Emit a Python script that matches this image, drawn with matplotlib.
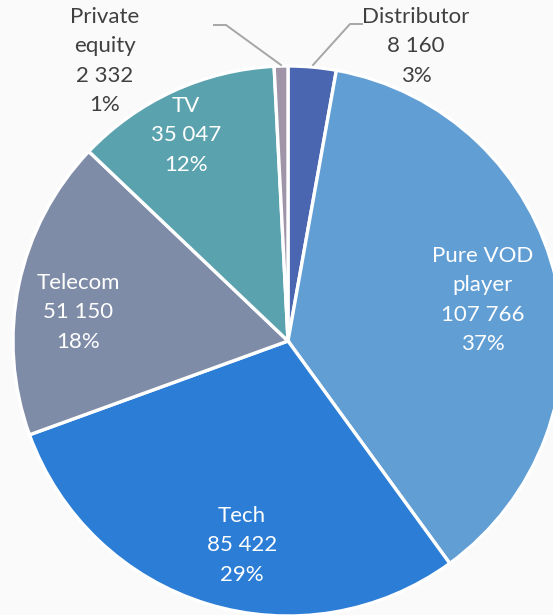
import matplotlib
matplotlib.use("Agg")
import matplotlib.pyplot as plt

categories = ["Distributor", "Pure VOD\nplayer", "Tech", "Telecom", "TV", "Private\nequity"]
values = [8160, 107766, 85422, 51150, 35047, 2332]
value_labels = ["8 160", "107 766", "85 422", "51 150", "35 047", "2 332"]
colors = ["#4a66b0", "#609ed4", "#2b7dd6", "#7f8ca7", "#5aa2ad", "#a095a8"]

W, H = 553, 615
fig = plt.figure(figsize=(W / 100, H / 100), dpi=100)
bg = "#fafafa"
fig.patch.set_facecolor(bg)
ax = fig.add_axes([0, 0, 1, 1])
ax.set_facecolor(bg)

cx, cy, r = 288, H - 341, 275
ax.pie(values, colors=colors, startangle=90, counterclock=False,
       center=(cx, cy), radius=r,
       wedgeprops=dict(edgecolor="white", linewidth=2.4), frame=True)
ax.set_xlim(0, W)
ax.set_ylim(0, H)
ax.set_aspect("equal")
ax.axis("off")

total = sum(values)
pcts = [f"{round(v / total * 100)}%" for v in values]

# label positions (pixel coords from top-left): center x, top line y
label_pos = [(416, 17), (483, 256), (242, 516), (78, 283), (186, 106), (105, 17)]
label_col = ["#404040", "white", "white", "white", "white", "#404040"]
font = ["Lato", "DejaVu Sans"]
for cat, vl, p, (x, y), c in zip(categories, value_labels, pcts, label_pos, label_col):
    lines = cat.split("\n") + [vl, p]
    for i, ln in enumerate(lines):
        ax.text(x, H - (y + i * 29.3), ln, ha="center", va="center",
                fontsize=16, color=c, family=font)

# leader lines
lc = "#a6a6a6"
ax.plot([313, 350, 362], [H - 65, H - 24, H - 24], color=lc, lw=1.4)
ax.plot([281, 226, 214], [H - 65, H - 25, H - 25], color=lc, lw=1.4)

fig.savefig("out.png", dpi=100, facecolor=bg)
